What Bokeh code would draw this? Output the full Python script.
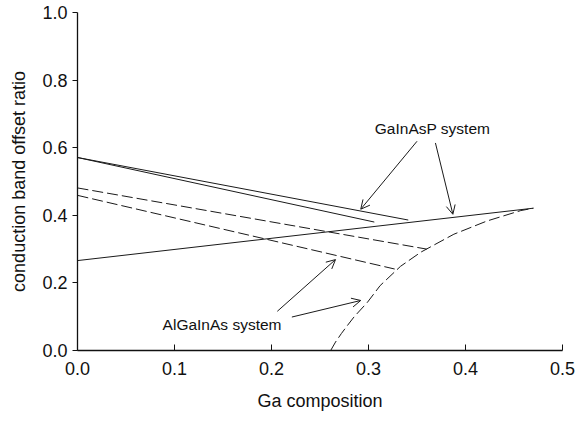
from bokeh.plotting import figure
from bokeh.models import Range1d, FixedTicker, Arrow, OpenHead, ColumnDataSource, CustomJSTickFormatter
from bokeh.core.properties import value
from bokeh.embed import file_html
from bokeh.resources import INLINE

# --- data ---
# GaInAsP system (solid lines)
gainasp_a_x = [0.0, 0.341]
gainasp_a_y = [0.571, 0.386]
gainasp_b_x = [0.0, 0.306]
gainasp_b_y = [0.571, 0.380]
gainasp_c_x = [0.0, 0.470]
gainasp_c_y = [0.266, 0.421]

# AlGaInAs system (dashed lines)
algainas_a_x = [0.0, 0.360]
algainas_a_y = [0.481, 0.300]
algainas_b_x = [0.0, 0.327]
algainas_b_y = [0.459, 0.241]
algainas_c_x = [0.261, 0.266, 0.272, 0.278, 0.285, 0.299, 0.312, 0.333, 0.354, 0.388, 0.422, 0.457, 0.470]
algainas_c_y = [0.000, 0.025, 0.050, 0.073, 0.099, 0.143, 0.192, 0.249, 0.291, 0.344, 0.383, 0.414, 0.421]

# annotation arrows (start -> tip)
arrow_x_start = [0.350, 0.369, 0.206, 0.221]
arrow_y_start = [0.619, 0.614, 0.116, 0.099]
arrow_x_end = [0.292, 0.387, 0.266, 0.292]
arrow_y_end = [0.418, 0.403, 0.269, 0.148]

label_text = ["GaInAsP system", "AlGaInAs system"]
label_x = [0.366, 0.149]
label_y = [0.656, 0.076]

x_ticks = [0.0, 0.1, 0.2, 0.3, 0.4, 0.5]
y_ticks = [0.0, 0.2, 0.4, 0.6, 0.8, 1.0]

FONT = "Liberation Sans"

p = figure(width=575, height=413, output_backend="svg", toolbar_location=None,
           x_range=Range1d(0, 0.5), y_range=Range1d(0, 1.0),
           min_border_left=77, min_border_right=13, min_border_top=12, min_border_bottom=61)

p.outline_line_color = None
p.xgrid.visible = False
p.ygrid.visible = False
p.background_fill_color = "white"
p.border_fill_color = "white"

line_col = "#1a1a1a"
for xs, ys in [(gainasp_a_x, gainasp_a_y), (gainasp_b_x, gainasp_b_y), (gainasp_c_x, gainasp_c_y)]:
    p.line(xs, ys, line_color=line_col, line_width=1)
for xs, ys in [(algainas_a_x, algainas_a_y), (algainas_b_x, algainas_b_y), (algainas_c_x, algainas_c_y)]:
    p.line(xs, ys, line_color=line_col, line_width=1, line_dash="11 4")

for xs, ys, xe, ye in zip(arrow_x_start, arrow_y_start, arrow_x_end, arrow_y_end):
    p.add_layout(Arrow(end=OpenHead(size=9, line_width=1, line_color=line_col),
                       x_start=xs, y_start=ys, x_end=xe, y_end=ye,
                       line_color=line_col, line_width=1))

src = ColumnDataSource(dict(x=label_x, y=label_y, t=label_text))
p.text(x="x", y="y", text="t", source=src, text_font=value(FONT), text_font_size="15.5px",
       text_align="center", text_baseline="middle", text_color="#111111")

# axes
p.xaxis.ticker = FixedTicker(ticks=x_ticks)
p.yaxis.ticker = FixedTicker(ticks=y_ticks)
p.xaxis.axis_label = "Ga composition"
p.yaxis.axis_label = "conduction band offset ratio"
for ax in (p.xaxis, p.yaxis):
    ax.axis_label_text_font = FONT
    ax.axis_label_text_font_style = "normal"
    ax.axis_label_text_font_size = "18px"
    ax.axis_label_text_color = "#111111"
    ax.major_label_text_font = FONT
    ax.major_label_text_font_size = "18px"
    ax.major_label_text_color = "#111111"
    ax.minor_tick_line_color = None
    ax.axis_line_color = "#111111"
    ax.axis_line_width = 1.3
    ax.major_tick_line_color = "#111111"
p.xaxis.formatter = CustomJSTickFormatter(code="return tick.toFixed(1);")
p.yaxis.formatter = CustomJSTickFormatter(code="return tick.toFixed(1);")
p.xaxis.major_tick_in = 6
p.xaxis.major_tick_out = 0
p.xaxis.major_label_standoff = 11
p.xaxis.axis_label_standoff = 13
p.yaxis.major_tick_in = 0
p.yaxis.major_tick_out = 5
p.yaxis.major_label_standoff = 5
p.yaxis.axis_label_standoff = 10

open("out.html", "w").write(file_html(p, INLINE))
